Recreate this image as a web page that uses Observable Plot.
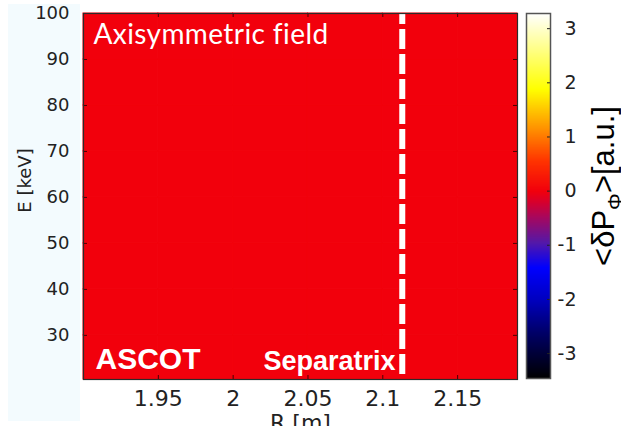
<!DOCTYPE html>
<html>
<head>
<meta charset="utf-8">
<script src="https://cdn.jsdelivr.net/npm/d3@7"></script>
<script src="https://cdn.jsdelivr.net/npm/@observablehq/plot@0.6"></script>
<style>
  html, body { margin: 0; padding: 0; background: #fff; }
  #fig { position: relative; width: 621px; height: 426px; overflow: hidden; }
  #panel { position: absolute; left: 8px; top: 4px; width: 72px; height: 417px; background: #f3fbfe; }
  #main, #bar { position: absolute; top: 0; }
  #main { left: 0; }
  #bar { left: 516px; }
</style>
</head>
<body>
<div id="fig">
  <div id="panel"></div>
  <div id="main"></div>
  <div id="bar"></div>
</div>
<script>
// Bin edges of the <δPφ> map: major radius R [m] and energy E [keV]
const rEdges = [1.90, 1.95, 2.00, 2.05, 2.10, 2.15, 2.19];
const eEdges = [20.4, 30, 40, 50, 60, 70, 80, 90, 100];

// <δPφ> per (E, R) bin; in the axisymmetric field there is no change anywhere
const deltaPphi = [
  [0, 0, 0, 0, 0, 0],
  [0, 0, 0, 0, 0, 0],
  [0, 0, 0, 0, 0, 0],
  [0, 0, 0, 0, 0, 0],
  [0, 0, 0, 0, 0, 0],
  [0, 0, 0, 0, 0, 0],
  [0, 0, 0, 0, 0, 0],
  [0, 0, 0, 0, 0, 0]
];

// Separatrix position [m]
const separatrixR = [2.113];

// Axis ticks
const rTicks = [1.95, 2, 2.05, 2.1, 2.15];
const rTickLabels = ["1.95", "2", "2.05", "2.1", "2.15"];
const eTicks = [30, 40, 50, 60, 70, 80, 90, 100];
const cbTicks = [-3, -2, -1, 0, 1, 2, 3];
const cbTickLabels = ["-3", "-2", "-1", "0", "1", "2", "3"];
const cbDomain = [-3.46, 3.28];

// Colormap: black → blue → purple → red → orange → yellow → white
const colorStops = [-3.46, -2.6, -2.0, -1.42, -0.95, -0.5, -0.2, 0, 0.55, 1.2, 1.88, 3.28];
const colorRange = ["#000000", "#00006a", "#0000c0", "#0000ff", "#5418a8", "#a50860",
                    "#d8002c", "#f2000c", "#ff3300", "#ff9900", "#ffff00", "#ffffff"];

// Text
const title = "Axisymmetric field";
const codeName = "ASCOT";
const sepLabel = "Separatrix";
const xLabel = "R [m]";
const yLabel = "E [keV]";
const cbLabel = "<δPΦ>[a.u.]";

const colorScale = {type: "linear", domain: colorStops, range: colorRange};

// Flatten the grid into rectangles
const cells = [];
deltaPphi.forEach((row, i) => row.forEach((v, j) => cells.push({
  r1: rEdges[j], r2: rEdges[j + 1], e1: eEdges[i], e2: eEdges[i + 1], v
})));

const tickColor = "#4a0000";
const main = Plot.plot({
  width: 530,
  height: 426,
  marginLeft: 83,
  marginRight: 13,
  marginTop: 13,
  marginBottom: 47,
  style: {background: "transparent", overflow: "visible", fontFamily: "DejaVu Sans", color: "#222"},
  x: {domain: [rEdges[0], rEdges[rEdges.length - 1]]},
  y: {domain: [eEdges[0], eEdges[eEdges.length - 1]]},
  color: colorScale,
  marks: [
    Plot.rect(cells, {x1: "r1", x2: "r2", y1: "e1", y2: "e2", fill: "v", stroke: "v", strokeWidth: 1}),
    Plot.ruleX(separatrixR, {stroke: "#fff", strokeWidth: 6, strokeDasharray: "20,5", strokeDashoffset: 9}),
    // inward ticks on all four sides
    Plot.tickX(rTicks, {x: d => d, insetTop: 362, stroke: tickColor}),
    Plot.tickX(rTicks, {x: d => d, insetBottom: 362, stroke: tickColor}),
    Plot.tickY(eTicks, {y: d => d, insetRight: 430, stroke: tickColor}),
    Plot.tickY(eTicks, {y: d => d, insetLeft: 430, stroke: tickColor}),
    Plot.frame({stroke: "#2b2b2b", strokeWidth: 1.2}),
    Plot.axisX(rTicks, {anchor: "bottom", tickSize: 0, tickPadding: 11, fontSize: 22,
      tickFormat: d => rTickLabels[rTicks.indexOf(d)], label: null}),
    Plot.axisY(eTicks, {anchor: "left", tickSize: 0, tickPadding: 14, fontSize: 18, label: null}),
    Plot.text([yLabel], {frameAnchor: "left", textAnchor: "middle", rotate: -90, dx: -58, dy: -16, fontSize: 18}),
    Plot.text([xLabel], {frameAnchor: "bottom", dy: 50, lineAnchor: "bottom", fontSize: 22}),
    Plot.text([title], {frameAnchor: "top-left", dx: 10, dy: 30, lineAnchor: "bottom", textAnchor: "start",
      fill: "#fff", fontFamily: "Lato", fontSize: 28}),
    Plot.text([codeName], {frameAnchor: "bottom-left", dx: 12, dy: -11, lineAnchor: "bottom", textAnchor: "start",
      fill: "#fff", fontFamily: "Liberation Sans", fontWeight: "bold", fontSize: 30}),
    Plot.text([sepLabel], {frameAnchor: "bottom-left", dx: 180, dy: -10, lineAnchor: "bottom", textAnchor: "start",
      fill: "#fff", fontFamily: "Liberation Sans", fontWeight: "bold", fontSize: 27})
  ]
});
document.getElementById("main").appendChild(main);

// Slightly looser tracking for the title
d3.select(main).selectAll("text")
  .filter(function () { return this.textContent === title; })
  .attr("letter-spacing", 0.4);

// Vertical colorbar
const bar = Plot.plot({
  width: 105,
  height: 426,
  marginLeft: 10,
  marginRight: 71,
  marginTop: 13,
  marginBottom: 48,
  style: {background: "transparent", overflow: "visible", fontFamily: "DejaVu Sans", color: "#222"},
  x: {domain: [0, 1], axis: null},
  y: {domain: cbDomain, axis: null},
  color: colorScale,
  marks: [
    Plot.raster({x1: 0, x2: 1, y1: cbDomain[0], y2: cbDomain[1], width: 1, height: 400, fill: (x, y) => y}),
    Plot.tickY(cbTicks, {y: d => d, insetLeft: 21, stroke: "#222"}),
    Plot.frame({stroke: "#555", strokeWidth: 1.5}),
    Plot.axisY(cbTicks, {anchor: "right", tickSize: 0, tickPadding: 26, textAnchor: "end", fontSize: 19,
      tickFormat: d => cbTickLabels[cbTicks.indexOf(d)], label: null}),
    Plot.text([cbLabel], {frameAnchor: "right", textAnchor: "middle", rotate: -90, dx: 54, dy: -10, fontSize: 31,
      fontFamily: "Liberation Sans", fill: "#000"})
  ]
});
document.getElementById("bar").appendChild(bar);

// Subscript Φ in the colorbar label
d3.select(bar).selectAll("text")
  .filter(function () { return this.textContent === cbLabel; })
  .each(function () {
    const t = d3.select(this);
    t.text(null);
    t.append("tspan").text("<δP");
    t.append("tspan").attr("dy", 8).attr("font-size", 21).text("Φ");
    t.append("tspan").attr("dy", -8).text(">[a.u.]");
  });
</script>
</body>
</html>
